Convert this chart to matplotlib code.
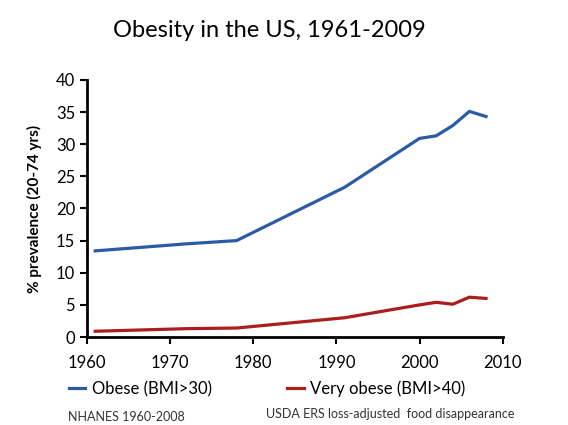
import matplotlib
matplotlib.use("Agg")
import matplotlib.pyplot as plt

plt.rcParams['font.family'] = ['Lato', 'DejaVu Sans']

# NHANES survey mid-years
years = [1961, 1972, 1978, 1991, 2000, 2002, 2004, 2006, 2008]
obese = [13.4, 14.5, 15.0, 23.3, 30.9, 31.3, 32.9, 35.1, 34.3]
very_obese = [0.9, 1.3, 1.4, 3.0, 5.0, 5.4, 5.1, 6.2, 6.0]

x_ticks = [1960, 1970, 1980, 1990, 2000, 2010]
y_ticks = [0, 5, 10, 15, 20, 25, 30, 35, 40]

fig = plt.figure(figsize=(5.68, 4.25), dpi=100)
ax = fig.add_axes([0.153, 0.207, 0.732, 0.605])

ax.plot(years, obese, color='#2b5ba6', linewidth=2.3, label='Obese (BMI>30)')
ax.plot(years, very_obese, color='#ab1d1f', linewidth=2.3, label='Very obese (BMI>40)')

ax.set_xlim(1960, 2010)
ax.set_ylim(0, 40)
ax.set_xticks(x_ticks)
ax.set_yticks(y_ticks)
ax.tick_params(axis='both', labelsize=12, width=1.5, length=5, color='black')
ax.tick_params(axis='x', pad=8)

for side in ['top', 'right']:
    ax.spines[side].set_visible(False)
for side in ['left', 'bottom']:
    ax.spines[side].set_linewidth(2)
    ax.spines[side].set_color('black')

ax.set_ylabel('% prevalence (20-74 yrs)', fontsize=11, fontweight='bold', labelpad=10)

fig.text(0.475, 0.928, 'Obesity in the US, 1961-2009', ha='center', va='center', fontsize=17)

fig.legend(loc='center', bbox_to_anchor=(0.47, 0.085), ncol=2, frameon=False,
           fontsize=12, handlelength=1.0, columnspacing=4.5, handletextpad=0.4)

fig.text(0.905, 0.025, 'USDA ERS loss-adjusted  food disappearance', ha='right', va='center',
         fontsize=9, color='#333333')
fig.text(0.12, 0.018, 'NHANES 1960-2008', ha='left', va='center', fontsize=9, color='#333333')

fig.savefig('out.png', dpi=100)
